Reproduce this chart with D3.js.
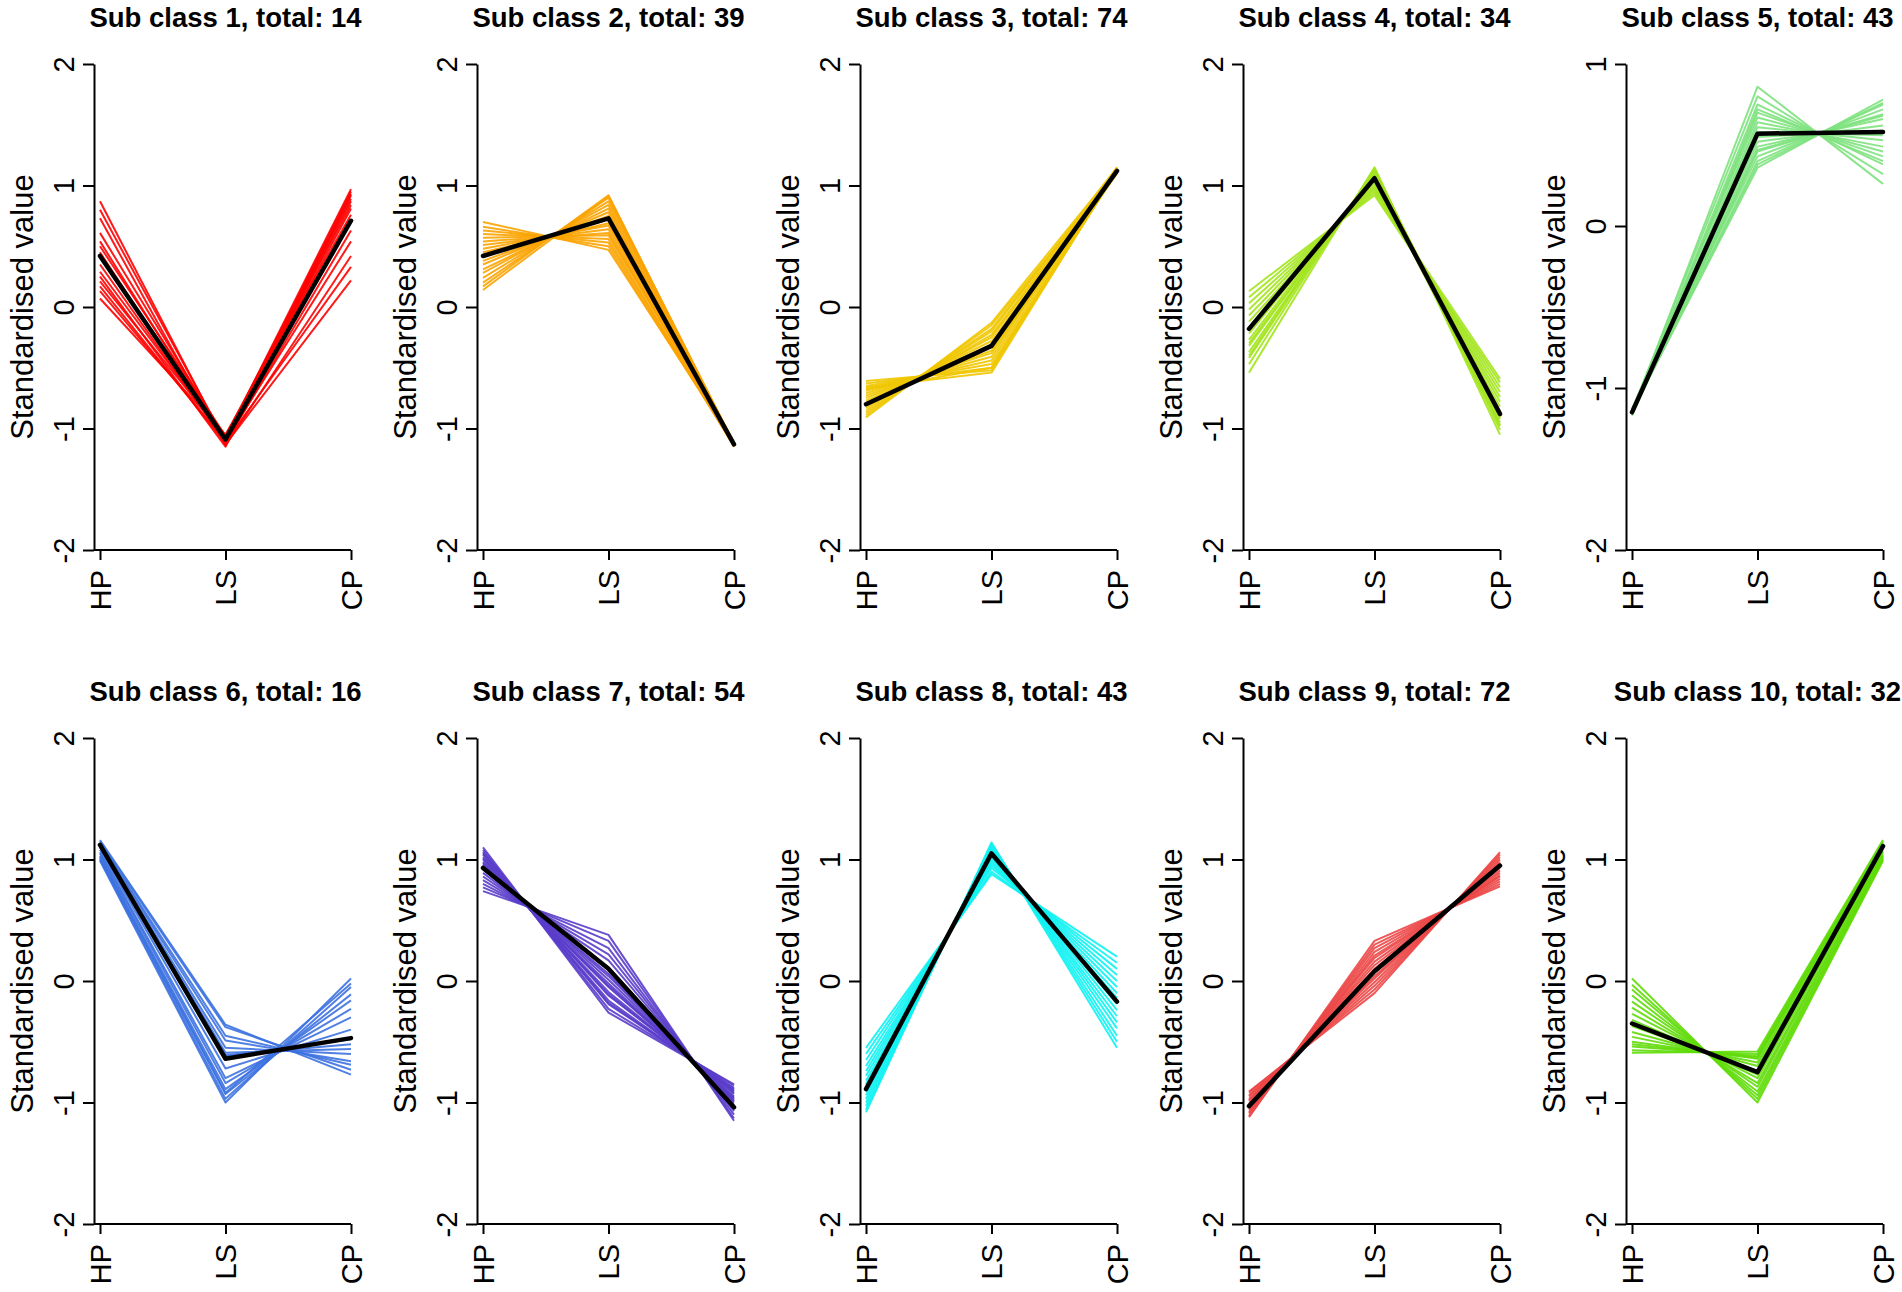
<!DOCTYPE html>
<html>
<head>
<meta charset="utf-8">
<script src="https://cdn.jsdelivr.net/npm/d3@7"></script>
<style>
  body { margin: 0; background: #fff; }
  svg { display: block; }
</style>
</head>
<body>
<div id="chart-area"></div>
<script>
// time points on the x axis
const stages = ["HP", "LS", "CP"]

// cluster sizes shown in the titles
const totals = [14, 39, 74, 34, 43, 16, 54, 43, 72, 32]

// y tick labels per panel (panel 5 has a shorter range)
const yTicks = [
    [-2, -1, 0, 1, 2], [-2, -1, 0, 1, 2], [-2, -1, 0, 1, 2], [-2, -1, 0, 1, 2], [-2, -1, 0, 1],
    [-2, -1, 0, 1, 2], [-2, -1, 0, 1, 2], [-2, -1, 0, 1, 2], [-2, -1, 0, 1, 2], [-2, -1, 0, 1, 2]
]

// cluster centres (black lines), values at HP, LS, CP
const centroids = [
    [0.42, -1.09, 0.71],
    [0.42, 0.73, -1.13],
    [-0.80, -0.32, 1.12],
    [-0.18, 1.06, -0.88],
    [-1.15, 0.57, 0.58],
    [1.12, -0.64, -0.47],
    [0.93, 0.10, -1.04],
    [-0.89, 1.05, -0.17],
    [-1.03, 0.08, 0.95],
    [-0.35, -0.75, 1.11]
]

// member profiles
const class1 = [
    [0.87, -1.12, 0.63], [0.80, -1.10, 0.54], [0.73, -1.14, 0.42], [0.61, -1.08, 0.97],
    [0.54, -1.11, 0.33], [0.50, -1.06, 0.89], [0.45, -1.13, 0.22], [0.29, -1.09, 0.95],
    [0.25, -1.15, 0.92], [0.21, -1.07, 0.84], [0.17, -1.12, 0.87], [0.13, -1.10, 0.81],
    [0.07, -1.05, 0.76], [0.35, -1.11, 0.93]
]
const class2 = [
    [0.70, 0.47, -1.12], [0.66, 0.50, -1.14], [0.63, 0.53, -1.13], [0.60, 0.56, -1.15],
    [0.57, 0.59, -1.12], [0.54, 0.61, -1.13], [0.51, 0.64, -1.14], [0.48, 0.67, -1.12],
    [0.45, 0.69, -1.13], [0.42, 0.72, -1.15], [0.38, 0.75, -1.13], [0.35, 0.78, -1.12],
    [0.31, 0.81, -1.14], [0.28, 0.84, -1.13], [0.24, 0.87, -1.12], [0.20, 0.90, -1.14],
    [0.17, 0.92, -1.13], [0.14, 0.91, -1.12]
]
const class3 = [
    [-0.61, -0.52, 1.12], [-0.63, -0.50, 1.14], [-0.65, -0.47, 1.11], [-0.67, -0.44, 1.13],
    [-0.69, -0.41, 1.15], [-0.71, -0.38, 1.12], [-0.73, -0.36, 1.10], [-0.75, -0.33, 1.13],
    [-0.77, -0.31, 1.14], [-0.79, -0.28, 1.11], [-0.81, -0.25, 1.12], [-0.83, -0.23, 1.13],
    [-0.85, -0.20, 1.15], [-0.87, -0.18, 1.12], [-0.89, -0.15, 1.11], [-0.91, -0.13, 1.14],
    [-0.66, -0.54, 1.13], [-0.68, -0.50, 1.12]
]
const class4 = [
    [0.13, 0.92, -0.62], [0.08, 0.94, -0.59], [0.03, 0.96, -0.66], [-0.02, 0.98, -0.70],
    [-0.07, 1.00, -0.74], [-0.12, 1.02, -0.78], [-0.17, 1.04, -0.82], [-0.22, 1.06, -0.86],
    [-0.27, 1.08, -0.89], [-0.32, 1.10, -0.92], [-0.37, 1.11, -0.95], [-0.42, 1.13, -0.98],
    [-0.47, 1.14, -1.01], [-0.54, 1.15, -1.05], [-0.30, 1.07, -0.97], [-0.40, 1.12, -0.91]
]
const class5 = [
    [-1.15, 0.86, 0.26], [-1.14, 0.80, 0.32], [-1.16, 0.75, 0.38], [-1.15, 0.70, 0.43],
    [-1.13, 0.67, 0.46], [-1.16, 0.64, 0.49], [-1.14, 0.61, 0.53], [-1.15, 0.58, 0.56],
    [-1.17, 0.55, 0.59], [-1.14, 0.52, 0.62], [-1.15, 0.49, 0.66], [-1.16, 0.46, 0.69],
    [-1.13, 0.43, 0.72], [-1.15, 0.40, 0.75], [-1.14, 0.36, 0.78], [-1.16, 0.72, 0.40],
    [-1.15, 0.47, 0.68], [-1.14, 0.38, 0.76]
]
const class6 = [
    [1.16, -0.36, -0.77], [1.15, -0.38, -0.73], [1.14, -0.45, -0.69], [1.13, -0.49, -0.66],
    [1.12, -0.55, -0.60], [1.11, -0.59, -0.56], [1.10, -0.61, -0.52], [1.12, -0.62, -0.48],
    [1.08, -0.72, -0.40], [1.06, -0.80, -0.30], [1.05, -0.84, -0.23], [1.03, -0.89, -0.16],
    [1.01, -0.93, -0.11], [1.00, -0.97, -0.05], [0.99, -1.00, 0.02], [1.02, -0.92, -0.02]
]
const class7 = [
    [1.10, -0.26, -0.85], [1.08, -0.23, -0.86], [1.06, -0.19, -0.88], [1.04, -0.16, -0.90],
    [1.02, -0.12, -0.91], [1.00, -0.09, -0.93], [0.98, -0.05, -0.95], [0.96, -0.02, -0.97],
    [0.95, 0.01, -0.98], [0.92, 0.06, -1.00], [0.89, 0.11, -1.02], [0.86, 0.17, -1.05],
    [0.83, 0.22, -1.07], [0.80, 0.27, -1.10], [0.77, 0.33, -1.13], [0.74, 0.38, -1.15],
    [1.05, -0.18, -0.89], [1.01, -0.11, -0.92], [0.97, -0.04, -0.96], [0.93, 0.04, -0.99]
]
const class8 = [
    [-0.55, 0.88, 0.20], [-0.60, 0.90, 0.15], [-0.65, 0.93, 0.10], [-0.70, 0.95, 0.05],
    [-0.74, 0.97, 0.00], [-0.78, 0.99, -0.05], [-0.82, 1.01, -0.10], [-0.85, 1.02, -0.14],
    [-0.88, 1.04, -0.19], [-0.91, 1.06, -0.24], [-0.94, 1.07, -0.29], [-0.97, 1.09, -0.34],
    [-1.00, 1.10, -0.39], [-1.03, 1.12, -0.45], [-1.06, 1.13, -0.50], [-1.08, 1.14, -0.55]
]
const class9 = [
    [-0.91, -0.10, 1.06], [-0.92, -0.07, 1.04], [-0.94, -0.04, 1.02], [-0.95, -0.01, 1.00],
    [-0.97, 0.02, 0.98], [-0.98, 0.04, 0.97], [-0.99, 0.07, 0.95], [-1.01, 0.10, 0.93],
    [-1.02, 0.13, 0.91], [-1.04, 0.16, 0.89], [-1.05, 0.19, 0.87], [-1.06, 0.21, 0.86],
    [-1.08, 0.24, 0.84], [-1.09, 0.27, 0.82], [-1.11, 0.30, 0.80], [-1.12, 0.33, 0.78]
]
const class10 = [
    [0.02, -1.00, 0.99], [-0.03, -0.97, 1.00], [-0.07, -0.94, 1.01], [-0.12, -0.91, 1.02],
    [-0.17, -0.87, 1.03], [-0.22, -0.84, 1.04], [-0.27, -0.80, 1.06], [-0.32, -0.77, 1.07],
    [-0.37, -0.74, 1.09], [-0.42, -0.70, 1.10], [-0.46, -0.67, 1.12], [-0.50, -0.64, 1.13],
    [-0.54, -0.62, 1.14], [-0.57, -0.60, 1.15], [-0.59, -0.58, 1.16], [-0.52, -0.63, 1.13]
]
const members = [class1, class2, class3, class4, class5, class6, class7, class8, class9, class10]

// one colour per cluster
const colors = ["#ff0000", "#fba300", "#efc600", "#a3e41e", "#7ee27e",
                "#3d72e0", "#5a3dca", "#0ff2f2", "#ec4646", "#5fdb08"]

const font = "'Liberation Sans', Arial, sans-serif"
const rowTop = [64, 738]
const plotH = 486
const colStep = 383

const svg = d3.select("#chart-area").append("svg")
    .attr("width", 1902)
    .attr("height", 1292)
    .attr("style", "background:#fff")

members.forEach((lines, i) => {
    const row = Math.floor(i / 5)
    const col = i % 5
    const ax = 94 + col * colStep
    const top = rowTop[row]
    const bottom = top + plotH

    const x = d3.scalePoint()
        .domain(stages)
        .range([ax + 6, ax + 257])

    const y = d3.scaleLinear()
        .domain(d3.extent(yTicks[i]))
        .range([bottom, top])

    const line = d3.line()
        .x((d, j) => x(stages[j]))
        .y(d => y(d))

    const g = svg.append("g")

    // member lines
    g.selectAll("path.member").data(lines)
        .enter()
        .append("path")
        .attr("class", "member")
        .attr("d", line)
        .attr("fill", "none")
        .attr("stroke", colors[i])
        .attr("stroke-opacity", 0.9)
        .attr("stroke-width", 2)
        .attr("stroke-linejoin", "round")

    // centroid
    g.append("path")
        .datum(centroids[i])
        .attr("d", line)
        .attr("fill", "none")
        .attr("stroke", "#000")
        .attr("stroke-width", 4.5)
        .attr("stroke-linejoin", "round")
        .attr("stroke-linecap", "round")

    // Y axis
    const yAxisCall = d3.axisLeft(y)
        .tickValues(yTicks[i])
        .tickSize(11)
        .tickSizeOuter(0)
        .tickFormat(d => String(d))

    const ya = g.append("g")
        .attr("transform", `translate(${ax}, 0)`)
        .call(yAxisCall)
        .attr("font-size", 29)
        .attr("font-family", font)
    ya.selectAll("path, line").attr("stroke", "#000").attr("stroke-width", 2)
    ya.selectAll("text")
        .attr("x", 0)
        .attr("dy", null)
        .attr("fill", "#000")
        .attr("text-anchor", "middle")
        .attr("transform", "translate(-20, 0) rotate(-90)")

    // X axis
    const xAxisCall = d3.axisBottom(x)
        .tickSize(10)
        .tickSizeOuter(0)

    const xa = g.append("g")
        .attr("transform", `translate(0, ${bottom})`)
        .call(xAxisCall)
        .attr("font-size", 29)
        .attr("font-family", font)
    xa.select(".domain").attr("d", `M${ax},0H${x("CP")}`)
    xa.selectAll("path, line").attr("stroke", "#000").attr("stroke-width", 2)
    xa.selectAll("text")
        .attr("y", 0)
        .attr("dy", null)
        .attr("fill", "#000")
        .attr("text-anchor", "end")
        .attr("transform", "translate(10, 20) rotate(-90)")

    // Y label
    g.append("text")
        .attr("transform", `translate(${ax - 61}, ${(top + bottom) / 2}) rotate(-90)`)
        .attr("text-anchor", "middle")
        .attr("font-family", font)
        .attr("font-size", 31)
        .text("Standardised value")

    // title
    g.append("text")
        .attr("x", (x("HP") + x("CP")) / 2)
        .attr("y", top - 37)
        .attr("text-anchor", "middle")
        .attr("font-family", font)
        .attr("font-size", 27.5)
        .attr("font-weight", "bold")
        .text(`Sub class ${i + 1}, total: ${totals[i]}`)
})
</script>
</body>
</html>
